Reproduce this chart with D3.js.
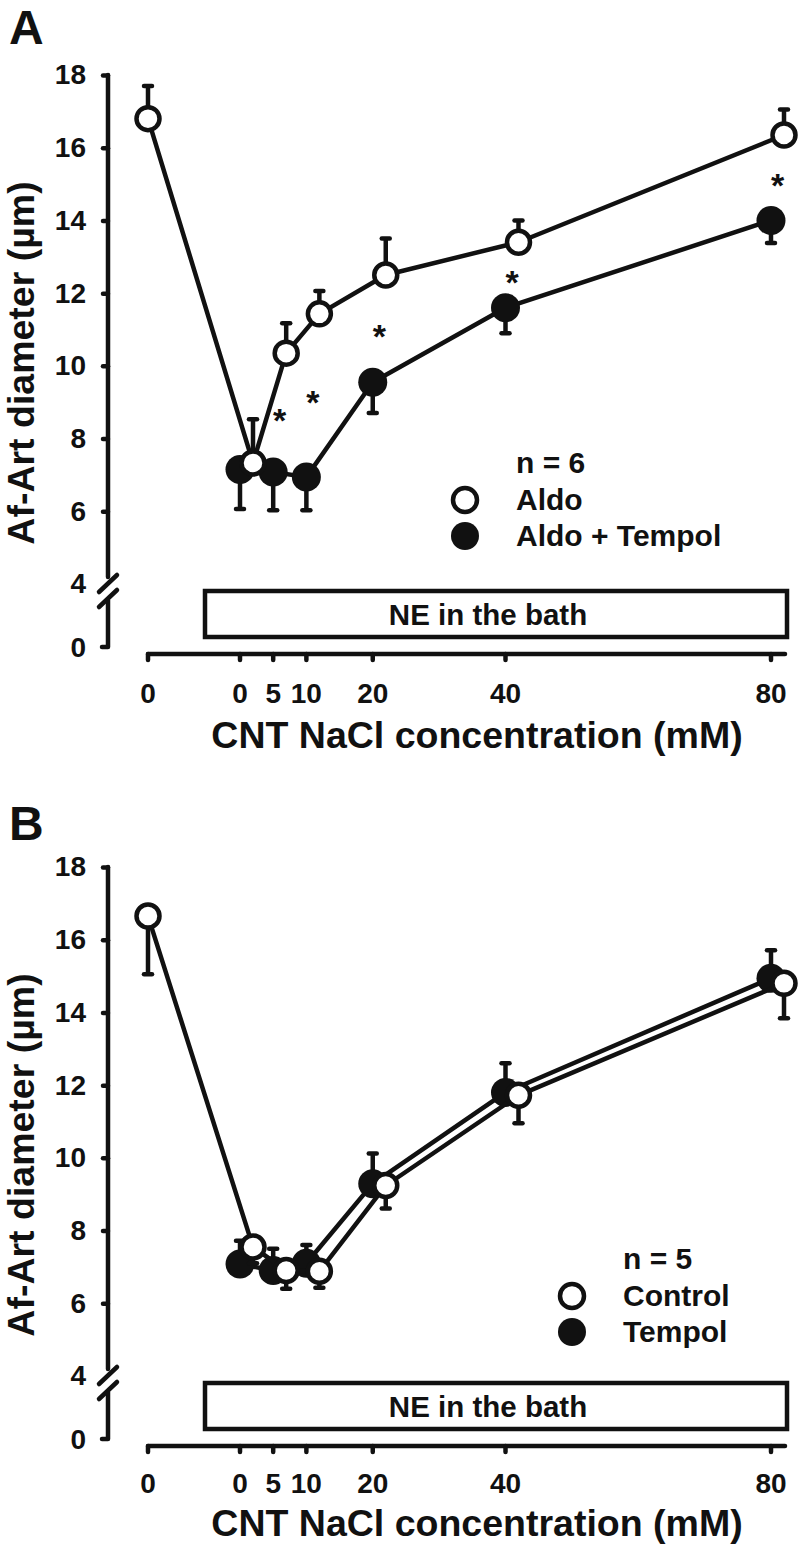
<!doctype html>
<html lang="en">
<head>
  <meta charset="utf-8">
  <title>Af-Art diameter vs CNT NaCl</title>
</head>
<style>
body { margin: 0; background: #fff; }
svg text { font-family: "Liberation Sans", Arial, sans-serif; font-weight: bold; fill: #111; }
</style>
<body>
  <script src="https://d3js.org/d3.v7.min.js"></script>
  <script>

	// x categories (mM NaCl in the CNT) and tick labels
	var conc = [0, 5, 10, 20, 40, 80];
	var tickLabels = ["0", "0", "5", "10", "20", "40", "80"];
	var yTicks = [6, 8, 10, 12, 14, 16, 18];

	// Panel A: Aldo vs Aldo + Tempol (n = 6)
	var aldoBase = 16.8, aldoBaseSE = 0.9;
	var aldo = [7.33, 10.35, 11.43, 12.5, 13.4, 16.35];
	var aldoSE = [1.2, 0.82, 0.63, 1.0, 0.6, 0.7];
	var aldoTempol = [7.15, 7.08, 6.94, 9.55, 11.6, 14.0];
	var aldoTempolSE = [1.09, 1.05, 0.91, 0.85, 0.7, 0.62];
	var sigA = [5, 10, 20, 40, 80];

	// Panel B: Control vs Tempol (n = 5)
	var controlBase = 16.65, controlBaseSE = 1.6;
	var control = [7.55, 6.9, 6.88, 9.24, 11.72, 14.8];
	var controlSE = [0.45, 0.5, 0.45, 0.63, 0.77, 0.96];
	var tempol = [7.08, 6.9, 7.1, 9.29, 11.8, 14.94];
	var tempolSE = [0.64, 0.6, 0.5, 0.83, 0.8, 0.77];
	var sigB = [];

	var svg = d3.select("body").append("svg")
		.attr("width", 798)
		.attr("height", 1546);

	var x = d3.scaleLinear().domain([0, 80]).range([240, 771]);
	var xBase = 148;      // column for the pre-NE baseline
	var openShift = 13;   // open symbols are nudged right

	var y = d3.scaleLinear().domain([4, 18]).range([584, 75]);
	var yZero = 647;
	var axisX = 108;
	var sw = 4.5;

	var panels = [
		{ label: "A", top: 0, base: aldoBase, baseSE: aldoBaseSE,
		  open: aldo, openSE: aldoSE, openDir: 1,
		  filled: aldoTempol, filledSE: aldoTempolSE, filledDir: -1,
		  n: "n = 6", names: ["Aldo", "Aldo + Tempol"], legX: 465, legY: 463, sig: sigA },
		{ label: "B", top: 792, base: controlBase, baseSE: controlBaseSE,
		  open: control, openSE: controlSE, openDir: -1,
		  filled: tempol, filledSE: tempolSE, filledDir: 1,
		  n: "n = 5", names: ["Control", "Tempol"], legX: 572, legY: 467, sig: sigB }
	];

	var line = d3.line()
		.x(function (d) { return d.x; })
		.y(function (d) { return y(d.v); });

	function drawSeries(g, pts, dir, isOpen, cls) {
		g.append("path")
			.datum(pts)
			.attr("d", line)
			.attr("fill", "none")
			.attr("stroke", "#111")
			.attr("stroke-width", sw)
			.attr("stroke-linejoin", "round");

		// error bars (one side only)
		g.selectAll(".stem-" + cls)
			.data(pts)
			.join("line")
			.attr("class", "stem-" + cls)
			.attr("x1", function (d) { return d.x; })
			.attr("x2", function (d) { return d.x; })
			.attr("y1", function (d) { return y(d.v); })
			.attr("y2", function (d) { return y(d.v + dir * d.se); })
			.attr("stroke", "#111")
			.attr("stroke-width", sw);

		g.selectAll(".cap-" + cls)
			.data(pts)
			.join("line")
			.attr("class", "cap-" + cls)
			.attr("x1", function (d) { return d.x - 4; })
			.attr("x2", function (d) { return d.x + 4; })
			.attr("y1", function (d) { return y(d.v + dir * d.se); })
			.attr("y2", function (d) { return y(d.v + dir * d.se); })
			.attr("stroke", "#111")
			.attr("stroke-width", sw)
			.attr("stroke-linecap", "round");

		g.selectAll(".dot-" + cls)
			.data(pts)
			.join("circle")
			.attr("class", "dot-" + cls)
			.attr("cx", function (d) { return d.x; })
			.attr("cy", function (d) { return y(d.v); })
			.attr("r", isOpen ? 11.5 : 14.5)
			.attr("fill", isOpen ? "#fff" : "#111")
			.attr("stroke", isOpen ? "#111" : "none")
			.attr("stroke-width", 4.5);
	}

	panels.forEach(function (p) {
		var g = svg.append("g").attr("transform", "translate(0," + p.top + ")");
		var bottomShift = p.label == "B" ? -4 : 0;

		// panel letter
		g.append("text")
			.attr("x", 9)
			.attr("y", p.label == "A" ? 44 : 48)
			.attr("font-size", 48)
			.text(p.label);

		// y axis, upper part
		var yAxis = d3.axisLeft(y)
			.tickValues(yTicks.concat([4]))
			.tickSize(5)
			.tickPadding(17)
			.tickFormat(d3.format("d"));
		var ya = g.append("g")
			.attr("transform", "translate(" + axisX + ",0)")
			.call(yAxis);
		ya.select(".domain").remove();
		ya.selectAll(".tick line")
			.attr("stroke", "#111")
			.attr("stroke-width", sw)
			.attr("stroke-linecap", "round")
			.filter(function (d) { return d == 4; }).remove();
		ya.selectAll(".tick text")
			.attr("font-size", 28)
			.attr("font-family", null)
			.attr("fill", "#111");
		ya.attr("font-size", null).attr("font-family", null);

		g.append("line")
			.attr("x1", axisX).attr("x2", axisX)
			.attr("y1", y(18)).attr("y2", y(4) - 7)
			.attr("stroke", "#111").attr("stroke-width", sw).attr("stroke-linecap", "round");

		// axis break
		[0, 15].forEach(function (dy) {
			g.append("line")
				.attr("x1", axisX - 9).attr("y1", y(4) + 8 + dy)
				.attr("x2", axisX + 9).attr("y2", y(4) - 9 + dy)
				.attr("stroke", "#111").attr("stroke-width", sw).attr("stroke-linecap", "round");
		});

		// y axis, lower part (0)
		g.append("path")
			.attr("d", "M" + axisX + "," + (y(4) + 16) + "V" + yZero + "H" + (axisX - 6))
			.attr("fill", "none")
			.attr("stroke", "#111").attr("stroke-width", sw)
			.attr("stroke-linecap", "round").attr("stroke-linejoin", "round");
		g.append("text")
			.attr("x", axisX - 22)
			.attr("y", yZero + 10)
			.attr("text-anchor", "end")
			.attr("font-size", 28)
			.text("0");

		// NE box
		var boxL = x(0) - 35, boxR = x(80) + 16;
		g.append("rect")
			.attr("x", boxL).attr("y", 591)
			.attr("width", boxR - boxL).attr("height", 46)
			.attr("fill", "#fff")
			.attr("stroke", "#111").attr("stroke-width", sw);
		g.append("text")
			.attr("x", (boxL + boxR) / 2 - 8)
			.attr("y", 625)
			.attr("text-anchor", "middle")
			.attr("font-size", 29.5)
			.text("NE in the bath");

		// x axis
		var xAxisY = 654;
		var xs = [xBase].concat(conc.map(function (c) { return x(c); }));
		g.append("line")
			.attr("x1", xBase).attr("x2", x(80) + 14)
			.attr("y1", xAxisY).attr("y2", xAxisY)
			.attr("stroke", "#111").attr("stroke-width", sw).attr("stroke-linecap", "round");
		g.selectAll(".xtick")
			.data(xs)
			.join("line")
			.attr("class", "xtick")
			.attr("x1", function (d) { return d; })
			.attr("x2", function (d) { return d; })
			.attr("y1", xAxisY)
			.attr("y2", xAxisY + 6)
			.attr("stroke", "#111").attr("stroke-width", sw).attr("stroke-linecap", "round");
		g.selectAll(".xlab")
			.data(xs)
			.join("text")
			.attr("class", "xlab")
			.attr("x", function (d) { return d; })
			.attr("y", 703 + bottomShift / 2)
			.attr("text-anchor", "middle")
			.attr("font-size", 28)
			.text(function (d, i) { return tickLabels[i]; });

		// axis titles
		g.append("text")
			.attr("x", 477)
			.attr("y", 748 + bottomShift)
			.attr("text-anchor", "middle")
			.attr("font-size", 37.5)
			.text("CNT NaCl concentration (mM)");
		g.append("text")
			.attr("transform", "translate(34,363) rotate(-90)")
			.attr("text-anchor", "middle")
			.attr("font-size", 37.5)
			.text("Af-Art diameter (\u00b5m)");

		// data
		var filledPts = conc.map(function (c, i) {
			return { x: x(c), v: p.filled[i], se: p.filledSE[i] };
		});
		var openPts = [{ x: xBase, v: p.base, se: p.baseSE }].concat(conc.map(function (c, i) {
			return { x: x(c) + openShift, v: p.open[i], se: p.openSE[i] };
		}));

		drawSeries(g, filledPts, p.filledDir, false, "f");
		drawSeries(g, openPts, p.openDir, true, "o");

		// significance stars, midway between the two groups
		g.selectAll(".star")
			.data(p.sig)
			.join("text")
			.attr("class", "star")
			.attr("x", function (c) { return x(c) + openShift / 2; })
			.attr("y", function (c) {
				var i = conc.indexOf(c);
				return y((p.open[i] + p.filled[i]) / 2) + 19;
			})
			.attr("text-anchor", "middle")
			.attr("font-size", 34)
			.text("*");

		// legend
		g.append("text")
			.attr("x", p.legX + 51).attr("y", p.legY + 10)
			.attr("font-size", 30)
			.text(p.n);
		g.append("circle")
			.attr("cx", p.legX).attr("cy", p.legY + 37)
			.attr("r", 12).attr("fill", "#fff")
			.attr("stroke", "#111").attr("stroke-width", 4.5);
		g.append("text")
			.attr("x", p.legX + 51).attr("y", p.legY + 47)
			.attr("font-size", 30)
			.text(p.names[0]);
		g.append("circle")
			.attr("cx", p.legX).attr("cy", p.legY + 73)
			.attr("r", 14).attr("fill", "#111");
		g.append("text")
			.attr("x", p.legX + 51).attr("y", p.legY + 83)
			.attr("font-size", 30)
			.text(p.names[1]);
	});

  </script>
</body>
</html>
